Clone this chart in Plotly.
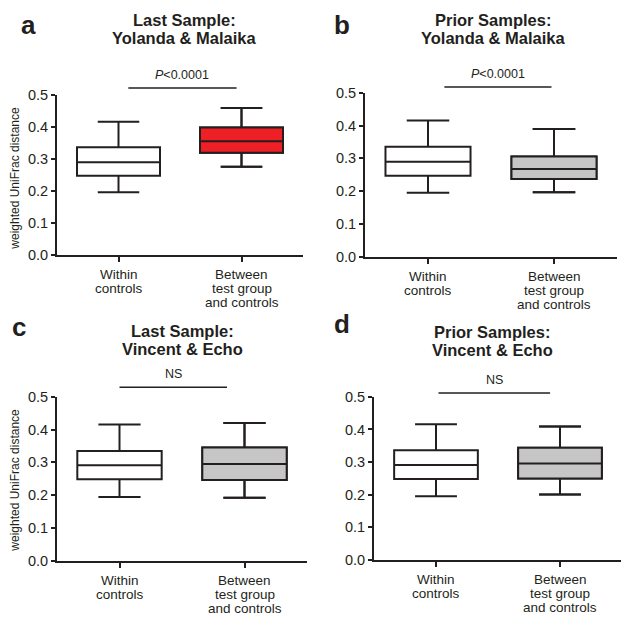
import plotly.graph_objects as go

# ---------------- data ----------------
categories = ["Within<br>controls", "Between<br>test group<br>and controls"]
panel_letters = ["a", "b", "c", "d"]
panel_titles = [
    "Last Sample:<br>Yolanda & Malaika",
    "Prior Samples:<br>Yolanda & Malaika",
    "Last Sample:<br>Vincent & Echo",
    "Prior Samples:<br>Vincent & Echo",
]
sig_labels = ["<i>P</i><0.0001", "<i>P</i><0.0001", "NS", "NS"]
y_title = "weighted UniFrac distance"
y_ticks = [0.0, 0.1, 0.2, 0.3, 0.4, 0.5]

# Within controls (same reference in each panel): low, q1, median, q3, high
within_low = [0.195, 0.195, 0.194, 0.195]
within_q1 = [0.247, 0.247, 0.248, 0.248]
within_med = [0.289, 0.290, 0.291, 0.291]
within_q3 = [0.336, 0.336, 0.335, 0.336]
within_high = [0.416, 0.416, 0.416, 0.416]

# Between test group and controls
between_low = [0.275, 0.197, 0.192, 0.200]
between_q1 = [0.319, 0.237, 0.246, 0.249]
between_med = [0.355, 0.268, 0.295, 0.295]
between_q3 = [0.398, 0.306, 0.345, 0.344]
between_high = [0.459, 0.390, 0.420, 0.409]

# ---------------- styling / layout ----------------
OFF = 8                      # default page body margin
W, H = 629 - OFF, 627 - OFF
FONT = "Arial, Liberation Sans, Helvetica, sans-serif"
INK = "#231f20"
between_fill = ["#ee1f25", "#c6c6c6", "#c6c6c6", "#c6c6c6"]


def px_x(px):
    return (px - OFF) / W


def px_y(py):
    return 1 - (py - OFF) / H


# plot-area pixel boxes in window coords: (left, right, top, bottom)
boxes_px = [(57, 303, 89, 253), (365, 617, 87, 255), (57, 307, 399, 567), (374, 622, 399, 566)]
sig_line_x = [(0.08, 0.96), (0.13, 0.98), (0.0, 0.86), (0.02, 0.92)]
sig_line_px = [82, 81, 389, 395]
sig_text_px = [69, 68, 375, 382]          # vertical centre of label
letter_pos = [(28, 17), (342, 17), (19, 327), (342, 324)]
title_pos = [(184, 12), (493, 12), (182, 331), (492, 332)]   # centre of first line
TITLE_SPACING = 19
ytitle_pos = [(15, 175), None, (15, 485), None]
XLAB_FIRST = 20
XLAB_SPACING = 14.5

fig = go.Figure()
annotations = []
shapes = []

for i in range(4):
    sfx = "" if i == 0 else str(i + 1)
    xa, ya = "x" + sfx, "y" + sfx
    l, r, t, b = boxes_px[i]
    fig.add_trace(go.Box(
        x=[0, 1],
        q1=[within_q1[i], between_q1[i]],
        median=[within_med[i], between_med[i]],
        q3=[within_q3[i], between_q3[i]],
        lowerfence=[within_low[i], between_low[i]],
        upperfence=[within_high[i], between_high[i]],
        xaxis=xa, yaxis=ya,
        width=0.675, whiskerwidth=0.5,
        fillcolor="white", line=dict(color=INK, width=2),
        boxpoints=False, showlegend=False, hoverinfo="skip",
    ))
    # coloured fill for the "between" box
    fig.add_trace(go.Box(
        x=[1],
        q1=[between_q1[i]], median=[between_med[i]], q3=[between_q3[i]],
        lowerfence=[between_low[i]], upperfence=[between_high[i]],
        xaxis=xa, yaxis=ya,
        width=0.675, whiskerwidth=0.5,
        fillcolor=between_fill[i], line=dict(color=INK, width=2),
        boxpoints=False, showlegend=False, hoverinfo="skip",
    ))

    axis_common = dict(
        showline=True, linewidth=2, linecolor=INK, showgrid=False, zeroline=False,
        ticks="outside", tickwidth=2, tickcolor=INK,
        tickfont=dict(family=FONT, size=14.5, color=INK),
    )
    fig.update_layout(**{
        ("xaxis" + sfx): dict(
            axis_common, domain=[px_x(l), px_x(r)], range=[-0.5, 1.5],
            tickvals=[0, 1], showticklabels=False, ticklen=5,
            anchor=ya, fixedrange=True,
        ),
        ("yaxis" + sfx): dict(
            axis_common, domain=[px_y(b), px_y(t)], range=[0, 0.5],
            tickvals=y_ticks, tickformat=".1f", ticklen=4,
            anchor=xa, fixedrange=True,
        ),
    })

    # category labels, one annotation per line
    for ci, cat in enumerate(categories):
        for li, line in enumerate(cat.split("<br>")):
            annotations.append(dict(
                text=line, xref=xa, yref="paper", x=ci,
                y=px_y(b + XLAB_FIRST + li * XLAB_SPACING),
                xanchor="center", yanchor="middle", showarrow=False,
                font=dict(family=FONT, size=13.5, color=INK)))

    dom_h = b - t
    ly = (b - sig_line_px[i]) / dom_h
    ty = (b - sig_text_px[i]) / dom_h
    x0, x1 = sig_line_x[i]
    shapes.append(dict(type="line", xref=xa, yref=ya + " domain",
                       x0=x0, x1=x1, y0=ly, y1=ly,
                       line=dict(color=INK, width=1.5)))
    annotations.append(dict(text=sig_labels[i], xref=xa, yref=ya + " domain",
                            x=(x0 + x1) / 2, y=ty, xanchor="center", yanchor="middle",
                            showarrow=False, font=dict(family=FONT, size=12.5, color=INK)))

    lx, lyy = letter_pos[i]
    annotations.append(dict(text="<b>" + panel_letters[i] + "</b>", xref="paper", yref="paper",
                            x=px_x(lx), y=px_y(lyy), xanchor="center", yanchor="middle",
                            showarrow=False, font=dict(family=FONT, size=26, color=INK)))
    tx, tyy = title_pos[i]
    for li, line in enumerate(panel_titles[i].split("<br>")):
        annotations.append(dict(text="<b>" + line + "</b>", xref="paper", yref="paper",
                                x=px_x(tx), y=px_y(tyy + li * TITLE_SPACING),
                                xanchor="center", yanchor="middle",
                                showarrow=False, font=dict(family=FONT, size=16.5, color=INK)))
    if ytitle_pos[i] is not None:
        yx, yy = ytitle_pos[i]
        annotations.append(dict(text=y_title, xref="paper", yref="paper",
                                x=px_x(yx), y=px_y(yy), xanchor="center", yanchor="middle",
                                textangle=-90, showarrow=False,
                                font=dict(family=FONT, size=12, color=INK)))

fig.update_layout(
    width=W, height=H,
    margin=dict(l=0, r=0, t=0, b=0),
    paper_bgcolor="white", plot_bgcolor="white",
    annotations=annotations, shapes=shapes,
    showlegend=False,
)

fig.write_html("out.html")
